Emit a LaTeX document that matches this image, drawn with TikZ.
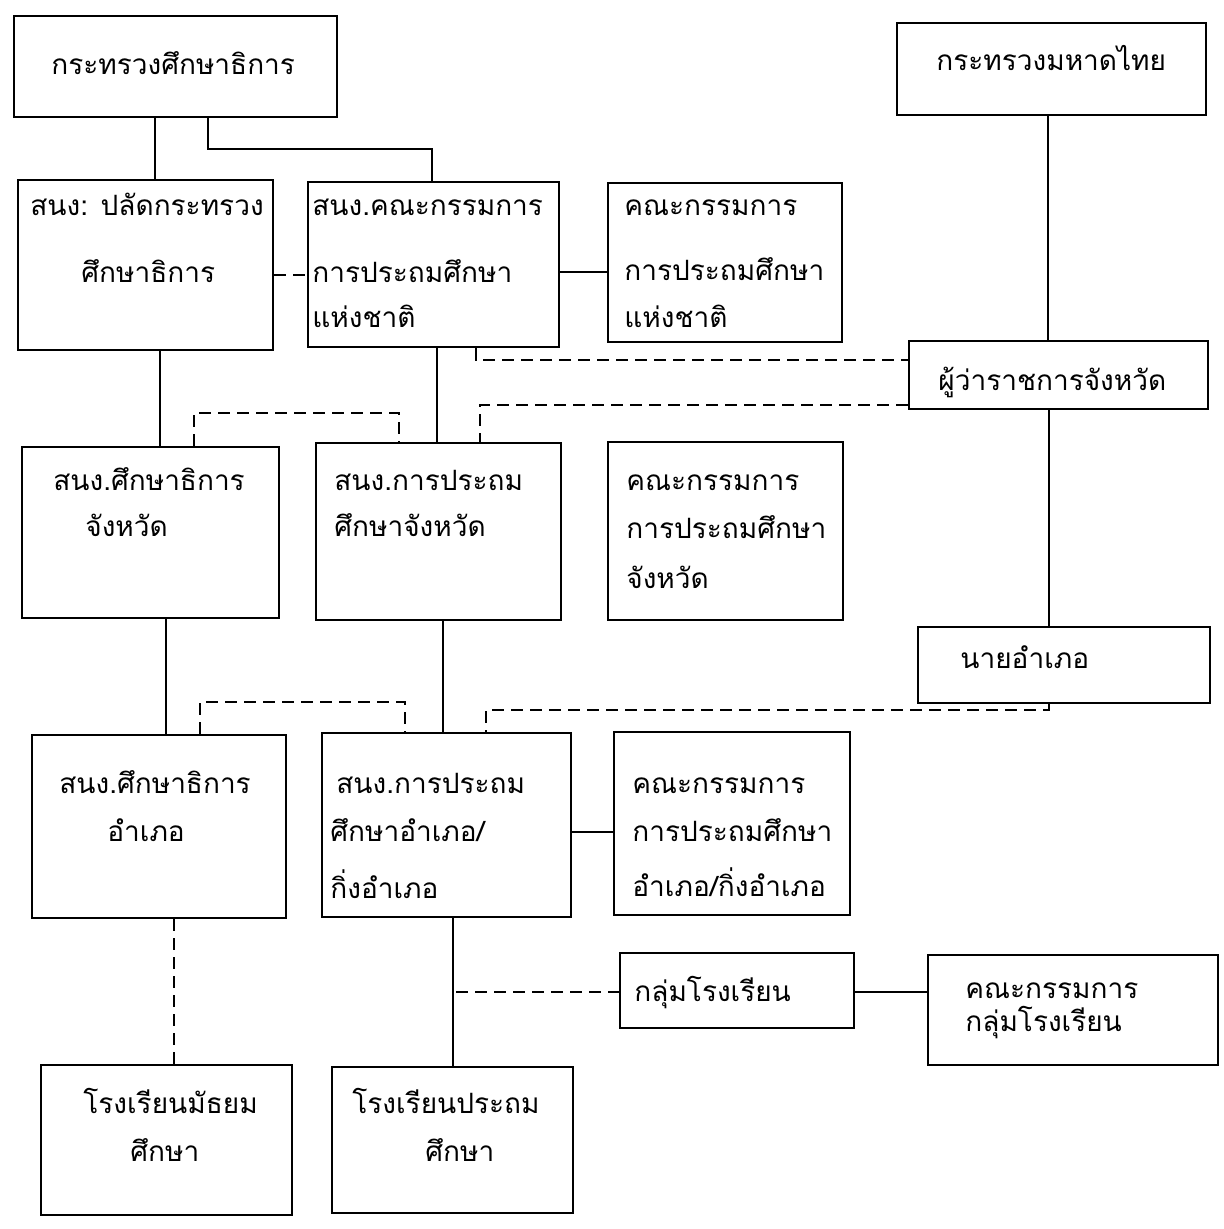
\documentclass[tikz,border=0pt]{standalone}
\usepackage{fontspec}
\newfontfamily\thaifont[Script=Thai]{Loma}
\usetikzlibrary{fit}
\begin{document}
\begin{tikzpicture}[x=0.5pt,y=-0.5pt,
  box/.style={draw, line width=1.4pt, inner sep=0pt},
  txt/.style={anchor=base west, inner sep=0pt, font=\thaifont\fontsize{14}{17}\selectfont},
  conn/.style={line width=1.1pt},
  dsh/.style={line width=1.1pt, dash pattern=on 6pt off 3.5pt}]
\useasboundingbox (0,0) rectangle (1223,1229);
% boxes
\node[box, fit={(14,16) (337,117)}] (b1) {};
\node[box, fit={(897,23) (1206,115)}] (moi) {};
\node[box, fit={(18,180) (273,350)}] (b2) {};
\node[box, fit={(308,182) (559,347)}] (b3) {};
\node[box, fit={(608,183) (842,342)}] (b4) {};
\node[box, fit={(909,341) (1208,409)}] (gov) {};
\node[box, fit={(22,447) (279,618)}] (b5) {};
\node[box, fit={(316,443) (561,620)}] (b6) {};
\node[box, fit={(608,442) (843,620)}] (b9) {};
\node[box, fit={(918,627) (1210,703)}] (dist) {};
\node[box, fit={(32,735) (286,918)}] (b7) {};
\node[box, fit={(322,733) (571,917)}] (b8) {};
\node[box, fit={(614,732) (850,915)}] (b10) {};
\node[box, fit={(620,953) (854,1028)}] (cl) {};
\node[box, fit={(928,955) (1218,1065)}] (clc) {};
\node[box, fit={(41,1065) (292,1215)}] (b11) {};
\node[box, fit={(332,1067) (573,1213)}] (b12) {};
% texts
\node[txt] (t1) at (51,75) {กระทรวงศึกษาธิการ};
\node[txt] (tm) at (936,71) {กระทรวงมหาดไทย};
\node[txt] (t2a) at (30,216) {สนง: ปลัดกระทรวง};
\node[txt] (t2b) at (81,283) {ศึกษาธิการ};
\node[txt] (t3a) at (312,216) {สนง.คณะกรรมการ};
\node[txt] (t3b) at (312,283) {การประถมศึกษา};
\node[txt] (t3c) at (312,328) {แห่งชาติ};
\node[txt] (t4a) at (624,216) {คณะกรรมการ};
\node[txt] (t4b) at (624,281) {การประถมศึกษา};
\node[txt] (t4c) at (624,328) {แห่งชาติ};
\node[txt] (tg) at (938,391) {ผู้ว่าราชการจังหวัด};
\node[txt] (t5a) at (53,490) {สนง.ศึกษาธิการ};
\node[txt] (t5b) at (85,536) {จังหวัด};
\node[txt] (t6a) at (334,490) {สนง.การประถม};
\node[txt] (t6b) at (334,536) {ศึกษาจังหวัด};
\node[txt] (t9a) at (626,490) {คณะกรรมการ};
\node[txt] (t9b) at (626,538) {การประถมศึกษา};
\node[txt] (t9c) at (626,588) {จังหวัด};
\node[txt] (td) at (960,668) {นายอำเภอ};
\node[txt] (t7a) at (59,793) {สนง.ศึกษาธิการ};
\node[txt] (t7b) at (107,841) {อำเภอ};
\node[txt] (t8a) at (336,793) {สนง.การประถม};
\node[txt] (t8b) at (330,841) {ศึกษาอำเภอ/};
\node[txt] (t8c) at (330,898) {กิ่งอำเภอ};
\node[txt] (t10a) at (632,793) {คณะกรรมการ};
\node[txt] (t10b) at (632,841) {การประถมศึกษา};
\node[txt] (t10c) at (632,896) {อำเภอ/กิ่งอำเภอ};
\node[txt] (tcl) at (634,1001) {กลุ่มโรงเรียน};
\node[txt] (tca) at (965,998) {คณะกรรมการ};
\node[txt] (tcb) at (965,1031) {กลุ่มโรงเรียน};
\node[txt] (t11a) at (83,1113) {โรงเรียนมัธยม};
\node[txt] (t11b) at (130,1161) {ศึกษา};
\node[txt] (t12a) at (352,1113) {โรงเรียนประถม};
\node[txt] (t12b) at (425,1161) {ศึกษา};
% connector helper coordinates
\coordinate (v155) at (155,0);
\coordinate (k1) at (208,149);
\coordinate (k2) at (432,149);
\coordinate (h275) at (0,275);
\coordinate (h272) at (0,272);
\coordinate (v1048) at (1048,0);
\coordinate (k3) at (476,360);
\coordinate (k4) at (480,405);
\coordinate (v160) at (160,0);
\coordinate (v437) at (437,0);
\coordinate (k5) at (194,413);
\coordinate (k6) at (399,413);
\coordinate (v1049) at (1049,0);
\coordinate (v166) at (166,0);
\coordinate (v443) at (443,0);
\coordinate (k7) at (200,702);
\coordinate (k8) at (405,702);
\coordinate (k9) at (1049,710);
\coordinate (k10) at (486,710);
\coordinate (h832) at (0,832);
\coordinate (v174) at (174,0);
\coordinate (v453) at (453,0);
\coordinate (j1) at (456,992);
\coordinate (h992) at (0,992);
% connectors
\draw[conn] (b1.south -| v155) -- (b2.north -| v155);
\draw[conn] (b1.south -| k1) -- (k1) -- (k2) -- (b3.north -| k2);
\draw[dsh] (b2.east |- h275) -- (b3.west |- h275);
\draw[conn] (b3.east |- h272) -- (b4.west |- h272);
\draw[conn] (moi.south -| v1048) -- (gov.north -| v1048);
\draw[dsh] (b3.south -| k3) -- (k3) -- (gov.west |- k3);
\draw[dsh] (gov.west |- k4) -- (k4) -- (b6.north -| k4);
\draw[conn] (b2.south -| v160) -- (b5.north -| v160);
\draw[conn] (b3.south -| v437) -- (b6.north -| v437);
\draw[dsh] (b5.north -| k5) -- (k5) -- (k6) -- (b6.north -| k6);
\draw[conn] (gov.south -| v1049) -- (dist.north -| v1049);
\draw[conn] (b5.south -| v166) -- (b7.north -| v166);
\draw[conn] (b6.south -| v443) -- (b8.north -| v443);
\draw[dsh] (b7.north -| k7) -- (k7) -- (k8) -- (b8.north -| k8);
\draw[dsh] (dist.south -| k9) -- (k9) -- (k10) -- (b8.north -| k10);
\draw[conn] (b8.east |- h832) -- (b10.west |- h832);
\draw[dsh] (b7.south -| v174) -- (b11.north -| v174);
\draw[conn] (b8.south -| v453) -- (b12.north -| v453);
\draw[dsh] (j1) -- (cl.west |- j1);
\draw[conn] (cl.east |- h992) -- (clc.west |- h992);
\end{tikzpicture}
\end{document}
